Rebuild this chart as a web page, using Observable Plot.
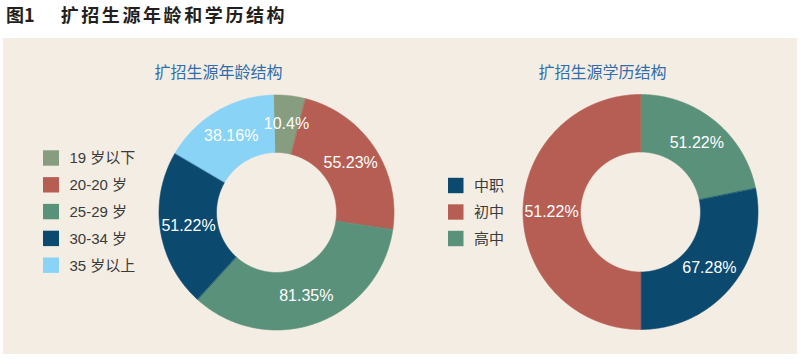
<!DOCTYPE html>
<html><head><meta charset="utf-8">
<script src="https://cdn.jsdelivr.net/npm/d3@7"></script>
<script src="https://cdn.jsdelivr.net/npm/@observablehq/plot@0.6"></script>
<style>
html,body{margin:0;padding:0;background:#fff;width:800px;height:359px;overflow:hidden;position:relative}
#title{position:absolute;left:6px;top:5px;font:bold 18px/18px "Noto Sans CJK SC","Liberation Sans",sans-serif;color:#231f20;white-space:nowrap}
#title .main{margin-left:26px;letter-spacing:2.6px}
#panel{position:absolute;left:3px;top:38px;width:794px;height:316px;background:#f4ede3}
#chart{position:absolute;left:0;top:38px}
</style></head><body>
<div id="title"><span>图1</span><span class="main">扩招生源年龄和学历结构</span></div>
<div id="panel"></div>
<div id="chart"></div>
<script>
// ---- data ----
const chartTitles = ["扩招生源年龄结构", "扩招生源学历结构"];

// age structure (legend order = clockwise slice order from top)
const ageCategories = ["19 岁以下", "20-20 岁", "25-29 岁", "30-34 岁", "35 岁以上"];
const ageValues = [10.4, 55.23, 81.35, 51.22, 38.16];
const ageLabels = ["10.4%", "55.23%", "81.35%", "51.22%", "38.16%"];
const ageColors = ["#879d80", "#b65e53", "#5a917b", "#0b4a6e", "#88d3f6"];

// education structure
const eduCategories = ["中职", "初中", "高中"];          // legend order
const eduColors = ["#0b4a6e", "#b65e53", "#5a917b"];
const eduSliceOrder = ["高中", "中职", "初中"];          // clockwise from top
const eduSliceShares = [21.8, 28.2, 50.0];             // slice sizes as drawn
const eduSliceLabels = ["51.22%", "67.28%", "51.22%"];

// ---- layout ----
const R = 117.5, r0 = 60, labelR = 89;
const deg = Math.PI / 180;
const donuts = [
  {cx: 276, cy: 212, start: -1.5 * deg, cats: ageCategories, vals: ageValues, labels: ageLabels},
  {cx: 640, cy: 211.5, start: 0, cats: eduSliceOrder, vals: eduSliceShares, labels: eduSliceLabels}
];

const verts = [], labelPts = [];
donuts.forEach((d, di) => {
  const arcs = d3.pie().sort(null).startAngle(d.start).endAngle(d.start + 2 * Math.PI)(d.vals);
  arcs.forEach((a, i) => {
    const id = di + "-" + i, cat = d.cats[i];
    const n = Math.max(4, Math.ceil((a.endAngle - a.startAngle) / (0.5 * deg)));
    const pt = (ang, rad) => ({id, cat, x: d.cx + rad * Math.sin(ang), y: d.cy - rad * Math.cos(ang)});
    for (let k = 0; k <= n; k++) verts.push(pt(a.startAngle + (a.endAngle - a.startAngle) * k / n, R));
    for (let k = n; k >= 0; k--) verts.push(pt(a.startAngle + (a.endAngle - a.startAngle) * k / n, r0));
    const mid = (a.startAngle + a.endAngle) / 2;
    labelPts.push({text: d.labels[i], x: d.cx + labelR * Math.sin(mid), y: d.cy - labelR * Math.cos(mid)});
  });
});

const titlePts = chartTitles.map((t, i) => ({text: t, x: [218, 602][i], y: 72}));

const legendLeft = ageCategories.map((c, i) => ({cat: c, x1: 43, x2: 59, yc: 158 + i * 26.8}));
const legendRight = eduCategories.map((c, i) => ({cat: c, x1: 448, x2: 463.5, yc: 185.5 + i * 26.5}));
const legend = [...legendLeft, ...legendRight];

const font = "'Liberation Sans', 'Noto Sans CJK SC', sans-serif";
const plot = Plot.plot({
  width: 800, height: 321, margin: 0,
  x: {domain: [0, 800], range: [0, 800], axis: null},
  y: {domain: [38, 359], range: [0, 321], axis: null},
  color: {domain: [...ageCategories, ...eduCategories], range: [...ageColors, ...eduColors]},
  style: {background: "transparent", overflow: "visible"},
  marks: [
    Plot.line(verts, {x: "x", y: "y", z: "id", fill: "cat", stroke: "cat", strokeWidth: 0.6, curve: "linear-closed"}),
    Plot.text(labelPts, {x: "x", y: "y", text: "text", fill: "white", fontSize: 16, fontFamily: font}),
    Plot.text(titlePts, {x: "x", y: "y", text: "text", fill: "#2f6eab", fontSize: 16, fontFamily: "'Noto Sans CJK SC', sans-serif"}),
    Plot.rect(legend, {x1: "x1", x2: "x2", y1: d => d.yc - 7.7, y2: d => d.yc + 7.7, fill: "cat"}),
    Plot.text(legend, {x: d => d.x2 + 10, y: "yc", text: "cat", textAnchor: "start", fill: "#3b3b3b", fontSize: 15, fontFamily: font})
  ]
});
document.getElementById("chart").appendChild(plot);
</script>
</body></html>
